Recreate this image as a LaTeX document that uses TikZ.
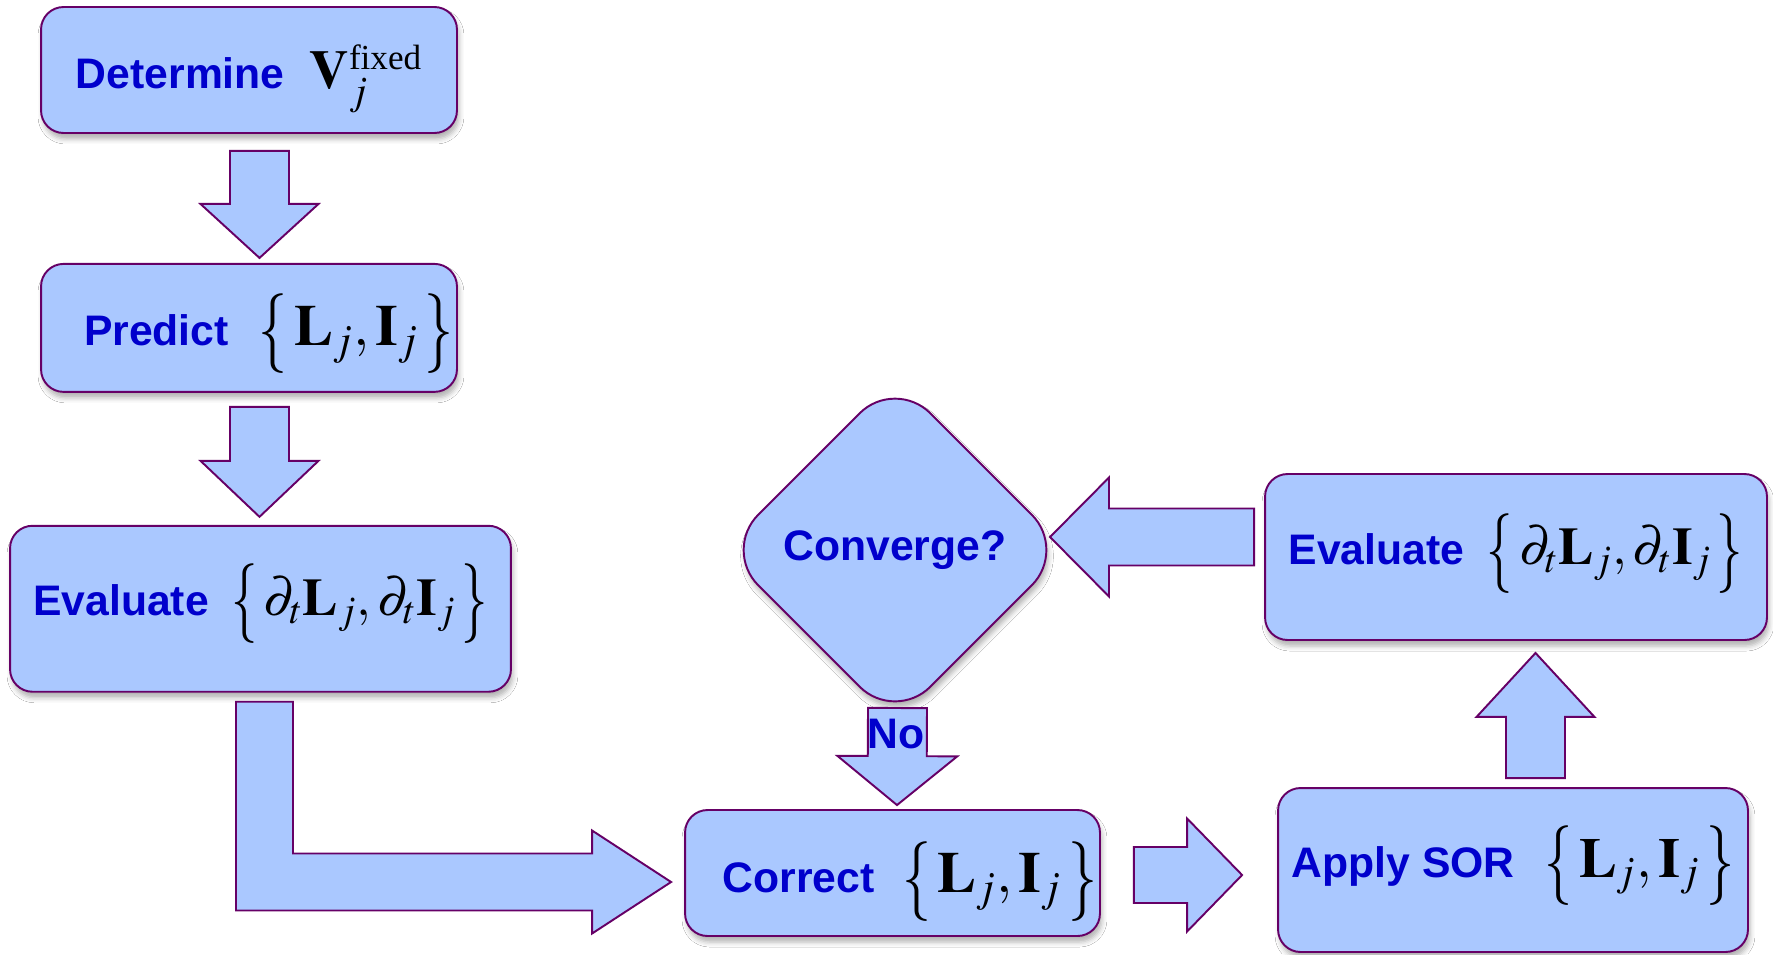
\documentclass[tikz,border=0pt]{standalone}
\usepackage{graphicx}
\usepackage{mathptmx}
\usepackage{fontspec}
\setmainfont{Liberation Serif}
\setsansfont{Liberation Sans}
\usetikzlibrary{positioning, calc, shapes.geometric, shadows.blur}

\definecolor{boxfill}{RGB}{170,200,255}
\definecolor{boxline}{RGB}{102,0,102}
\definecolor{labelblue}{RGB}{0,0,204}

% black formula part of a box, at its own size
\newcommand{\eqpart}[2]{{\color{black}\fontsize{#1}{#1}\selectfont$#2$}}
% one brace stretched to a fixed height
\newcommand{\tallbrace}[1]{\raisebox{-16pt}{\resizebox*{\width}{45pt}{\raisebox{\depth}{$#1$}}}}
\newcommand{\braced}[1]{\mathopen{\tallbrace{\{}}\,#1\,\mathclose{\tallbrace{\}}}}

\tikzset{
  box/.style={draw=boxline, fill=boxfill, line width=1.1pt, rounded corners=0.45cm,
    blur shadow={shadow xshift=0.04cm, shadow yshift=-0.12cm, shadow blur radius=0.1cm, shadow opacity=30},
    text=labelblue, font=\fontsize{24.3}{28}\selectfont\sffamily\bfseries, inner sep=0pt,
    text depth=0pt},
  decision/.style={box, diamond, rounded corners=1cm, aspect=1,
    minimum width=6.9cm, minimum height=6.9cm, text depth=, text height=},
  lbl/.style={text=labelblue, font=\fontsize{24.3}{28}\selectfont\sffamily\bfseries, inner sep=0pt},
  % block arrow: half shaft / half head / head length
  fatarrow/.style args={#1/#2/#3}{draw=boxline, fill=boxfill, line width=1.1pt,
    to path={
      ($(\tikztotarget)!#3!(\tikztostart)$) coordinate (fa-base)
      ($(\tikztostart)!#1!90:(\tikztotarget)$)
        -- ($(fa-base)!#1!90:(\tikztotarget)$)
        -- ($(fa-base)!#2!90:(\tikztotarget)$)
        -- (\tikztotarget)
        -- ($(fa-base)!#2!-90:(\tikztotarget)$)
        -- ($(fa-base)!#1!-90:(\tikztotarget)$)
        -- ($(\tikztostart)!#1!-90:(\tikztotarget)$) -- cycle}},
  fatbody/.style={draw=boxline, fill=boxfill, line width=1.1pt},
}

\begin{document}
\begin{tikzpicture}[x=0.02cm, y=-0.02cm]
  \fill[white] (0,0) rectangle (1773,954);
  \useasboundingbox (0,0) rectangle (1773,954);

  % left column
  \node[box, minimum width=8.32cm, minimum height=2.52cm, text height=21.6pt] (det) at (249,70)
    {Determine\hspace{0.5cm}\eqpart{31}{\mathbf{V}_j^{\mbox{\fontsize{20}{20}\selectfont\rmfamily\mdseries fixed}}}\hspace{0.5cm}};
  \node[box, minimum width=8.32cm, minimum height=2.56cm, text height=20.4pt, below=2.58cm of det] (pred)
    {\hspace{0.8cm}Predict\hspace{0.6cm}\eqpart{33}{\braced{\mathbf{L}_j,\mathbf{I}_j}}};
  \node[box, minimum width=10.02cm, minimum height=3.32cm, text height=8pt, below=2.64cm of pred, xshift=0.23cm] (evl)
    {Evaluate\hspace{0.45cm}\eqpart{30}{\braced{\partial_t\mathbf{L}_j,\partial_t\mathbf{I}_j}}};

  % correction loop
  \node[box, minimum width=8.3cm, minimum height=2.52cm, text height=22.6pt] (cor) at (892.5,873)
    {\hspace{0.7cm}Correct\hspace{0.55cm}\eqpart{33}{\braced{\mathbf{L}_j,\mathbf{I}_j}}};
  \node[box, minimum width=9.4cm, minimum height=3.28cm, text height=8pt] (sor) at (1513,870)
    {Apply SOR\hspace{0.6cm}\eqpart{32}{\braced{\mathbf{L}_j,\mathbf{I}_j}}};
  \node[box, minimum width=10.04cm, minimum height=3.32cm, text height=9pt] (evr) at (1516,557)
    {Evaluate\hspace{0.45cm}\eqpart{30}{\braced{\partial_t\mathbf{L}_j,\partial_t\mathbf{I}_j}}};
  \node[decision] (cnv) at (895,550) {Converge?};

  % arrow ends
  \coordinate (a1s) at ($(det.south)+(10.5,17)$);
  \coordinate (a1e) at ($(pred.north)+(10.5,-5)$);
  \coordinate (a2s) at ($(pred.south)+(10.5,14)$);
  \coordinate (a2e) at ($(evl.north)+(-1,-8)$);
  \coordinate (a3s) at ($(cor.east)+(33,2)$);
  \coordinate (a3e) at ($(sor.west)+(-35,5)$);
  \coordinate (a4s) at ($(sor.north)+(22.5,-9)$);
  \coordinate (a4e) at ($(evr.south)+(19.5,12)$);
  \coordinate (a5s) at ($(evr.west)+(-10,-20)$);
  \coordinate (a5e) at ($(cnv.center)+(155,-13)$);
  \coordinate (nos) at ($(cnv.center)+(2.5,158)$);
  \coordinate (noe) at ($(cor.north)+(4.5,-4)$);
  \coordinate (ltail) at ($(evl.south)+(4,9)$);
  \coordinate (ltip) at ($(cor.west)+(-13,9)$);

  \draw[fatarrow=0.59cm/1.18cm/1.08cm] (a1s) to (a1e);
  \draw[fatarrow=0.59cm/1.18cm/1.12cm] (a2s) to (a2e);
  \draw[fatarrow=0.56cm/1.13cm/1.1cm] (a3s) to (a3e);
  \draw[fatarrow=0.59cm/1.18cm/1.28cm] (a4s) to (a4e);
  \draw[fatarrow=0.57cm/1.19cm/1.18cm] (a5s) to (a5e);
  \draw[fatarrow=0.59cm/1.2cm/0.98cm] (nos) to (noe);

  % bent arrow from the first evaluation into the corrector
  \draw[fatbody] ($(ltail)+(-28.5,0)$) |- ($(ltip)+(-79,28.5)$) -- ++(0,23)
    -- (ltip) -- ($(ltip)+(-79,-51.5)$) -- ++(0,23) -| ($(ltail)+(28.5,0)$) -- cycle;

  \node[lbl] (no) at ($(cnv)+(1,184)$) {No};
\end{tikzpicture}
\end{document}
